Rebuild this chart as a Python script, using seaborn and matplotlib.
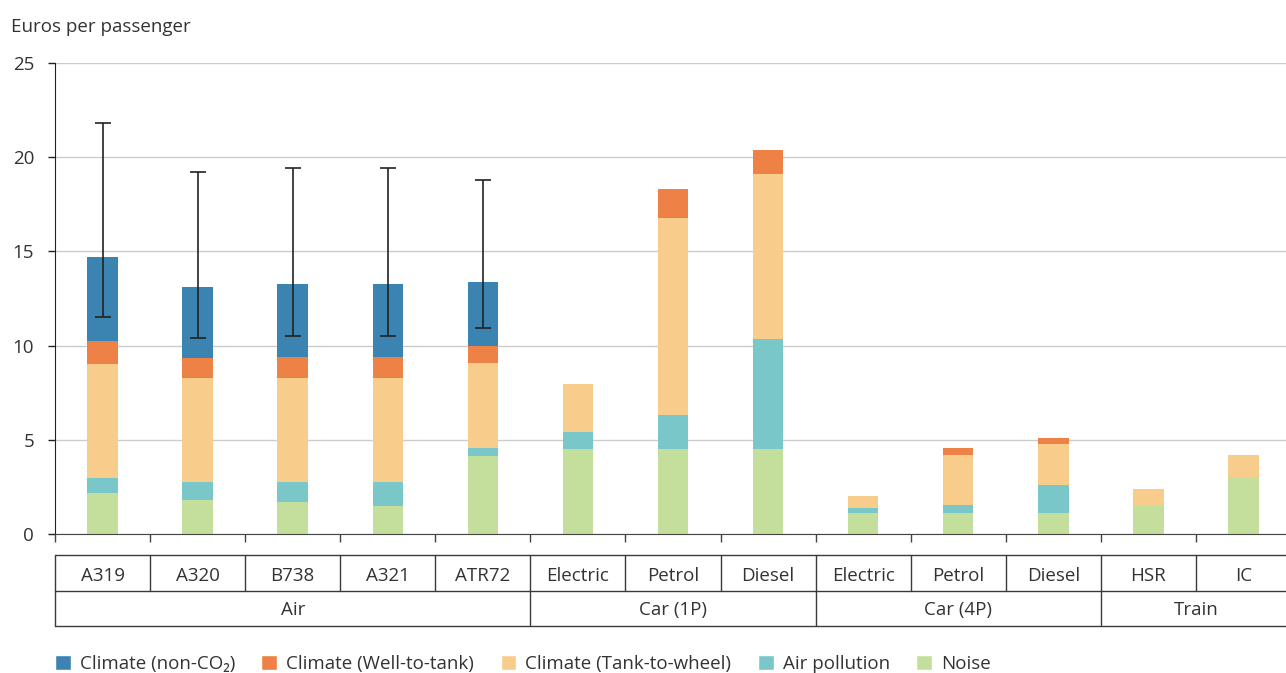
import numpy as np
import pandas as pd
import matplotlib
import seaborn as sns
import matplotlib.pyplot as plt
from matplotlib.patches import Patch

matplotlib.use('Agg')

# categories (unique keys for seaborn, display labels separately)
keys = ['A319', 'A320', 'B738', 'A321', 'ATR72',
        'Car1P Electric', 'Car1P Petrol', 'Car1P Diesel',
        'Car4P Electric', 'Car4P Petrol', 'Car4P Diesel',
        'HSR', 'IC']
labels = ['A319', 'A320', 'B738', 'A321', 'ATR72',
          'Electric', 'Petrol', 'Diesel',
          'Electric', 'Petrol', 'Diesel',
          'HSR', 'IC']
groups = ['Air', 'Car (1P)', 'Car (4P)', 'Train']
group_sizes = [5, 3, 3, 2]

# euros per passenger, bottom to top
noise = [2.16, 1.80, 1.70, 1.49, 4.14, 4.49, 4.49, 4.49, 1.13, 1.13, 1.13, 1.50, 2.99]
air_pollution = [0.81, 0.98, 1.08, 1.29, 0.42, 0.92, 1.83, 5.86, 0.25, 0.41, 1.47, 0.0, 0.0]
tank_to_wheel = [6.07, 5.50, 5.52, 5.52, 4.50, 2.55, 10.43, 8.74, 0.64, 2.67, 2.18, 0.89, 1.20]
well_to_tank = [1.20, 1.04, 1.09, 1.09, 0.90, 0.0, 1.54, 1.29, 0.0, 0.35, 0.33, 0.0, 0.0]
non_co2 = [4.46, 3.81, 3.86, 3.86, 3.43, 0, 0, 0, 0, 0, 0, 0, 0]

# uncertainty range for the aircraft
err_low = [11.54, 10.42, 10.51, 10.51, 10.95]
err_high = [21.80, 19.21, 19.43, 19.43, 18.79]

layers = [
    ('Noise', noise, '#c4df9b'),
    ('Air pollution', air_pollution, '#79c7c9'),
    ('Climate (Tank-to-wheel)', tank_to_wheel, '#f8cc8b'),
    ('Climate (Well-to-tank)', well_to_tank, '#ed8146'),
    ('Climate (non-CO\u2082)', non_co2, '#3b84b1'),
]

sns.set_style('white')
plt.rcParams['font.family'] = ['Open Sans', 'DejaVu Sans']
txt = '#333333'
fs = 13.5

fig = plt.figure(figsize=(12.86, 6.73), dpi=100)
ax = fig.add_axes([55 / 1286, 139 / 673, 1236 / 1286, 471 / 673])

bottom = np.zeros(len(keys))
for name, vals, col in layers:
    df = pd.DataFrame({'cat': keys, 'val': vals})
    sns.barplot(data=df, x='cat', y='val', order=keys, color=col, saturation=1,
                width=0.32, bottom=bottom.copy(), ax=ax, zorder=2, linewidth=0)
    bottom += np.array(vals)

pos = np.arange(len(err_low))
lo = np.array(err_low)
hi = np.array(err_high)
ax.errorbar(pos, lo, yerr=[np.zeros(len(lo)), hi - lo], fmt='none', ecolor='#222222',
            elinewidth=1.2, capsize=6, capthick=1.2, zorder=3)

ax.set_ylim(0, 25)
ax.set_xlim(-0.5, len(keys) - 0.5)
ax.set_yticks([0, 5, 10, 15, 20, 25])
ax.yaxis.grid(True, color='#cccccc', linewidth=1, zorder=0)
ax.xaxis.grid(False)
ax.set_xticks(np.arange(-0.5, len(keys), 1))
ax.set_xticklabels([])
ax.tick_params(axis='x', length=6, width=1, color='#444444', direction='out', bottom=True)
ax.tick_params(axis='y', length=5, width=1, color='#222222', direction='out', left=True,
               pad=10, labelsize=fs, labelcolor=txt)
ax.set_xlabel('')
ax.set_ylabel('')
for s in ['top', 'right']:
    ax.spines[s].set_visible(False)
ax.spines['left'].set_color('#222222')
ax.spines['bottom'].set_color('#444444')

# category table under the axis
tr = matplotlib.transforms.blended_transform_factory(ax.transData, ax.transAxes)
y_top, y_mid, y_bot = -0.0446, -0.121, -0.195
lk = dict(transform=tr, clip_on=False, color='#3a3a3a', linewidth=1)
n = len(keys)
for y in [y_top, y_mid, y_bot]:
    ax.plot([-0.5, n - 0.5], [y, y], **lk)
for i in range(n + 1):
    ax.plot([i - 0.5, i - 0.5], [y_top, y_mid], **lk)
edges = np.cumsum([0] + group_sizes)
for e in edges:
    ax.plot([e - 0.5, e - 0.5], [y_mid, y_bot], **lk)
for i, lab in enumerate(labels):
    ax.text(i, (y_top + y_mid) / 2 - 0.006, lab, transform=tr, ha='center', va='center',
            fontsize=fs, color=txt)
for g, a, b in zip(groups, edges[:-1], edges[1:]):
    ax.text((a + b - 1) / 2, (y_mid + y_bot) / 2 - 0.004, g, transform=tr, ha='center',
            va='center', fontsize=fs, color=txt)

fig.text(11 / 1286, 1 - 27 / 673, 'Euros per passenger', ha='left', va='center',
         fontsize=fs, color=txt)

handles = [Patch(facecolor=c, label=nm) for nm, v, c in layers[::-1]]
fig.legend(handles=handles, loc='center left', bbox_to_anchor=(38 / 1286, 1 - 664 / 673),
           ncol=5, frameon=False, fontsize=fs, handlelength=0.85, handleheight=0.85,
           handletextpad=0.48, columnspacing=1.4, labelcolor=txt)

fig.savefig('out.png', dpi=100)
